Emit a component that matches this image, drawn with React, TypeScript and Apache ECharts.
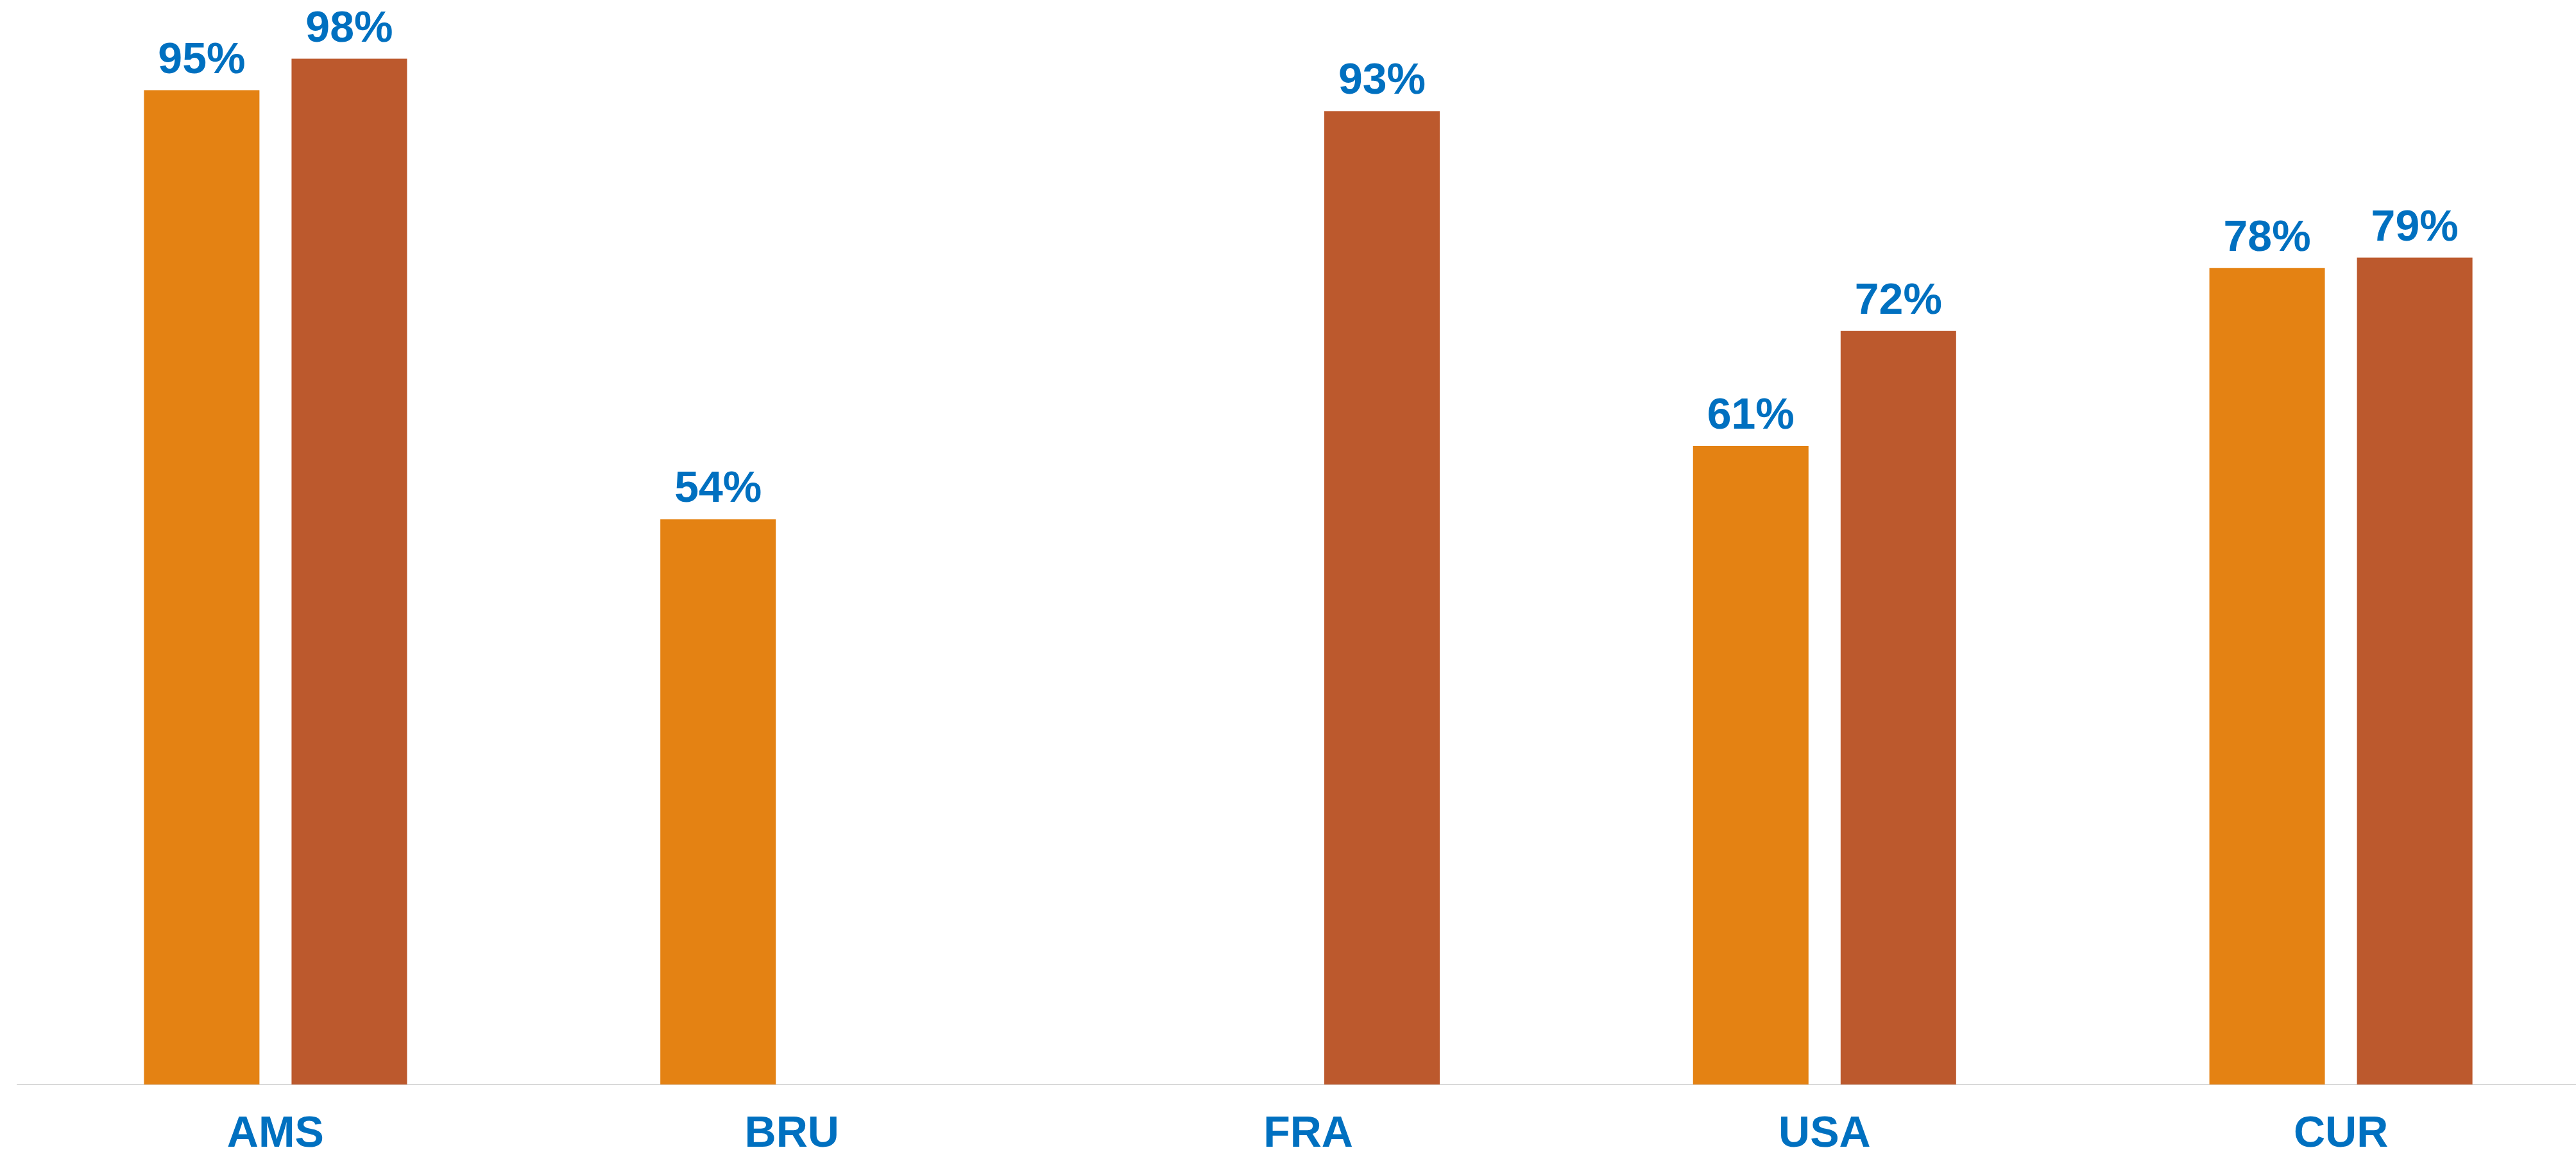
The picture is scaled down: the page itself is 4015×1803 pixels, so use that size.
import React, { useEffect, useRef } from "react";
import * as echarts from "echarts";

const categories = ["AMS", "BRU", "FRA", "USA", "CUR"];
const seriesA = [95, 54, null, 61, 78];
const seriesB = [98, null, 93, 72, 79];

const BLUE = "#0070C0";

export default function App() {
  const ref = useRef<HTMLDivElement>(null);
  useEffect(() => {
    document.body.style.margin = "0";
    document.body.style.overflow = "hidden";
    const chart = echarts.init(ref.current!, null, { renderer: "svg" });
    const label = {
      show: true,
      position: "top",
      distance: 17,
      formatter: (p: any) => `${p.value}%`,
      color: BLUE,
      fontFamily: "Liberation Sans, Arial, sans-serif",
      fontWeight: "bold",
      fontSize: 68,
      lineHeight: 68,
    };
    chart.setOption({
      animation: false,
      backgroundColor: "#ffffff",
      grid: { left: 27, top: 59, width: 4024, height: 1631, containLabel: false },
      xAxis: {
        type: "category",
        data: categories,
        axisTick: { show: false },
        axisLine: { show: true, lineStyle: { color: "#D9D9D9", width: 2 } },
        axisLabel: {
          color: BLUE,
          fontFamily: "Liberation Sans, Arial, sans-serif",
          fontWeight: "bold",
          fontSize: 68,
          lineHeight: 56,
          margin: 45,
        },
      },
      yAxis: {
        type: "value",
        min: 0,
        max: 100,
        show: false,
        splitLine: { show: false },
      },
      series: [
        {
          type: "bar",
          data: seriesA,
          barWidth: 180,
          barGap: "27.8%",
          itemStyle: { color: "#E48213" },
          label,
        },
        {
          type: "bar",
          data: seriesB,
          barWidth: 180,
          barGap: "27.8%",
          itemStyle: { color: "#BC592D" },
          label,
        },
      ],
    });
    return () => chart.dispose();
  }, []);
  return (
    <div style={{ width: 4015, height: 1803, overflow: "hidden", background: "#ffffff" }}>
      <div ref={ref} style={{ width: 4060, height: 1803 }} />
    </div>
  );
}
